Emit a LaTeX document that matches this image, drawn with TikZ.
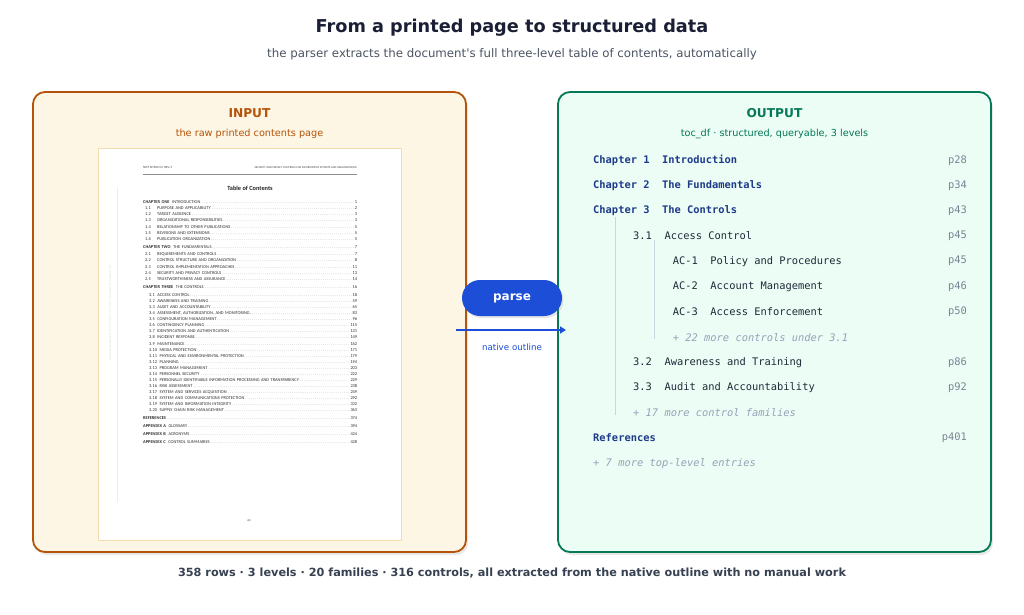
\documentclass[tikz,border=0pt]{standalone}
\usepackage{fontspec}
\setmainfont{DejaVu Sans}
\setmonofont{DejaVu Sans Mono}
\newfontfamily\plainsans{DejaVu Sans}
\newfontfamily\carl{Carlito}
\usetikzlibrary{shadows,arrows.meta}
\definecolor{titlec}{HTML}{1A1F36}
\definecolor{subc}{HTML}{4B5563}
\definecolor{inbord}{HTML}{B45309}
\definecolor{infill}{HTML}{FEF6E4}
\definecolor{outbord}{HTML}{047857}
\definecolor{outfill}{HTML}{ECFDF5}
\definecolor{navy}{HTML}{1E3A8A}
\definecolor{rowc}{HTML}{1F2937}
\definecolor{morec}{HTML}{94A3B8}
\definecolor{pagec}{HTML}{7A8494}
\definecolor{guide}{HTML}{CBD5E1}
\definecolor{pblue}{HTML}{1D4ED8}
\definecolor{botc}{HTML}{374151}
\definecolor{pageb}{HTML}{F1DDB0}
\newcommand\lead{\textcolor{black!45}{\dotfill}}
\newcommand\tocA[5]{\node[tocnode,text width=212pt] (#1) at (145,#2) {\makebox[12pt][l]{#3}#4\lead#5};}
\newcommand\tocB[5]{\node[tocnode,text width=208pt] (#1) at (149,#2) {\mbox{#3}\hspace{2.6pt}#4\lead#5};}
\newcommand\tocC[5]{\node[tocnode,text width=214pt] (#1) at (143,#2) {\textbf{#3}\hspace{2.6pt}#4\lead#5};}
\begin{document}
\begin{tikzpicture}[x=1pt,y=-1pt,
  panel/.style={rounded corners=12pt, line width=1.8pt, drop shadow={shadow xshift=2pt,shadow yshift=-3pt,opacity=0.18}},
  ptitle/.style={font=\bfseries\fontsize{12.2}{14}\selectfont, inner sep=0},
  psub/.style={font=\fontsize{9.7}{12}\selectfont, inner sep=0},
  tocnode/.style={anchor=west, inner sep=0, font=\carl\fontsize{4.4}{5}\selectfont, text=black!82},
  mono/.style={anchor=west, inner sep=0, font=\ttfamily\fontsize{10.4}{12}\selectfont},
  chap/.style={mono, font=\ttfamily\bfseries\fontsize{10.4}{12}\selectfont, text=navy},
  row/.style={mono, text=rowc},
  more/.style={mono, font=\ttfamily\itshape\fontsize{10.4}{12}\selectfont, text=morec},
  pnum/.style={anchor=east, inner sep=0, font=\ttfamily\fontsize{10.4}{12}\selectfont, text=pagec},
  guideline/.style={guide, line width=1pt}
]
\useasboundingbox (0,0) rectangle (1024,614);
\fill[white] (0,0) rectangle (1024,614);

% titles
\node[font=\bfseries\fontsize{17.7}{20}\selectfont, text=titlec, inner sep=0] (title) at (512,28) {From a printed page to structured data};
\node[font=\plainsans\fontsize{11.8}{14}\selectfont, text=subc, inner sep=0] (subtitle) at (512,54) {the parser extracts the document's full three-level table of contents, automatically};

% panels
\draw[panel, draw=inbord, fill=infill] (33,92) rectangle (466,552);
\draw[panel, draw=outbord, fill=outfill] (558,92) rectangle (991,552);
\node[ptitle, text=inbord] (inlab) at (249.5,113) {INPUT};
\node[psub, text=inbord] (insub) at (249.5,134) {the raw printed contents page};
\node[ptitle, text=outbord] (outlab) at (774.5,113) {OUTPUT};
\node[psub, text=outbord] (outsub) at (774.5,134) {toc\_df · structured, queryable, 3 levels};

% printed page
\draw[pageb, fill=white, line width=0.8pt] (98,148) rectangle (401,540);
\draw[black!7, line width=0.6pt] (117,187) -- (117,502);
\node[rotate=-90, inner sep=0, font=\carl\fontsize{2.6}{3}\selectfont, text=black!14] (side) at (110,313) {This publication is available free of charge from: https://doi.org/10.6028/NIST.SP.800-53r5};
\node[anchor=west, inner sep=0, font=\carl\fontsize{3.2}{4}\selectfont, text=black!75] (hl) at (143,168) {NIST SP 800-53, REV. 5};
\node[anchor=east, inner sep=0, font=\carl\fontsize{2.9}{4}\selectfont, text=black!75] (hr) at (357,168) {SECURITY AND PRIVACY CONTROLS FOR INFORMATION SYSTEMS AND ORGANIZATIONS};
\draw[black!45, line width=0.4pt] (143,174) -- (357,174);
\node[inner sep=0, font=\carl\bfseries\fontsize{6.3}{7}\selectfont, text=black!85] (toc) at (250,188) {Table of Contents};

\tocC{c1}{202}{CHAPTER ONE}{INTRODUCTION}{1}
\tocA{s11}{208.3}{1.1}{PURPOSE AND APPLICABILITY}{2}
\tocA{s12}{214.4}{1.2}{TARGET AUDIENCE}{3}
\tocA{s13}{220.5}{1.3}{ORGANIZATIONAL RESPONSIBILITIES}{3}
\tocA{s14}{226.6}{1.4}{RELATIONSHIP TO OTHER PUBLICATIONS}{5}
\tocA{s15}{232.7}{1.5}{REVISIONS AND EXTENSIONS}{5}
\tocA{s16}{238.8}{1.6}{PUBLICATION ORGANIZATION}{5}
\tocC{c2}{246.7}{CHAPTER TWO}{THE FUNDAMENTALS}{7}
\tocA{s21}{254.3}{2.1}{REQUIREMENTS AND CONTROLS}{7}
\tocA{s22}{260.5}{2.2}{CONTROL STRUCTURE AND ORGANIZATION}{8}
\tocA{s23}{266.7}{2.3}{CONTROL IMPLEMENTATION APPROACHES}{11}
\tocA{s24}{272.9}{2.4}{SECURITY AND PRIVACY CONTROLS}{13}
\tocA{s25}{279.1}{2.5}{TRUSTWORTHINESS AND ASSURANCE}{14}
\tocC{c3}{287.2}{CHAPTER THREE}{THE CONTROLS}{16}
\tocB{s31}{295.0}{3.1}{ACCESS CONTROL}{18}
\tocB{s32}{301.07}{3.2}{AWARENESS AND TRAINING}{59}
\tocB{s33}{307.14}{3.3}{AUDIT AND ACCOUNTABILITY}{65}
\tocB{s34}{313.21}{3.4}{ASSESSMENT, AUTHORIZATION, AND MONITORING}{83}
\tocB{s35}{319.28}{3.5}{CONFIGURATION MANAGEMENT}{96}
\tocB{s36}{325.35}{3.6}{CONTINGENCY PLANNING}{115}
\tocB{s37}{331.42}{3.7}{IDENTIFICATION AND AUTHENTICATION}{131}
\tocB{s38}{337.49}{3.8}{INCIDENT RESPONSE}{149}
\tocB{s39}{343.56}{3.9}{MAINTENANCE}{162}
\tocB{s310}{349.63}{3.10}{MEDIA PROTECTION}{171}
\tocB{s311}{355.70}{3.11}{PHYSICAL AND ENVIRONMENTAL PROTECTION}{179}
\tocB{s312}{361.77}{3.12}{PLANNING}{194}
\tocB{s313}{367.84}{3.13}{PROGRAM MANAGEMENT}{203}
\tocB{s314}{373.91}{3.14}{PERSONNEL SECURITY}{222}
\tocB{s315}{379.98}{3.15}{PERSONALLY IDENTIFIABLE INFORMATION PROCESSING AND TRANSPARENCY}{229}
\tocB{s316}{386.05}{3.16}{RISK ASSESSMENT}{238}
\tocB{s317}{392.12}{3.17}{SYSTEM AND SERVICES ACQUISITION}{249}
\tocB{s318}{398.19}{3.18}{SYSTEM AND COMMUNICATIONS PROTECTION}{292}
\tocB{s319}{404.26}{3.19}{SYSTEM AND INFORMATION INTEGRITY}{332}
\tocB{s320}{410.33}{3.20}{SUPPLY CHAIN RISK MANAGEMENT}{363}
\node[tocnode,text width=214pt] (refs) at (143,418.2) {\textbf{REFERENCES}\lead 374};
\tocC{apa}{426.3}{APPENDIX A}{GLOSSARY}{394}
\tocC{apb}{434.3}{APPENDIX B}{ACRONYMS}{424}
\tocC{apc}{442.3}{APPENDIX C}{CONTROL SUMMARIES}{428}
\node[inner sep=0, font=\carl\fontsize{3}{4}\selectfont, text=black!75] (pno) at (249,520) {xiii};

% parse connector
\coordinate (a0) at (456,330);
\coordinate (a1) at (566,330);
\draw[pblue, line width=2.8pt, -{Triangle[length=6pt,width=7pt]}] (a0) -- (a1);
\node[fill=pblue, rounded corners=18pt, minimum width=100pt, minimum height=36pt, inner sep=0,
      text=white, font=\bfseries\fontsize{12}{14}\selectfont,
      drop shadow={shadow xshift=1.5pt,shadow yshift=-2pt,opacity=0.2}] (parse) at (512,298) {parse};
\node[inner sep=0, text=pblue, font=\fontsize{8.7}{10}\selectfont] (nat) at (512,347) {native outline};

% output rows
\node[chap] (r1) at (593,160.7) {Chapter~1~~Introduction};
\node[pnum] (p1) at (967,160.7) {p28};
\node[chap] (r2) at (593,185.7) {Chapter~2~~The~Fundamentals};
\node[pnum] (p2) at (967,185.7) {p34};
\node[chap] (r3) at (593,210.8) {Chapter~3~~The~Controls};
\node[pnum] (p3) at (967,210.8) {p43};
\node[row] (r4) at (633,236) {3.1~~Access~Control};
\node[pnum] (p4) at (967,236) {p45};
\node[row] (r5) at (672.7,261.1) {AC-1~~Policy~and~Procedures};
\node[pnum] (p5) at (967,261.1) {p45};
\node[row] (r6) at (672.7,286.4) {AC-2~~Account~Management};
\node[pnum] (p6) at (967,286.4) {p46};
\node[row] (r7) at (672.7,311.6) {AC-3~~Access~Enforcement};
\node[pnum] (p7) at (967,311.6) {p50};
\node[more] (r8) at (672.7,337.2) {+~22~more~controls~under~3.1};
\node[row] (r9) at (633,362.3) {3.2~~Awareness~and~Training};
\node[pnum] (p9) at (967,362.3) {p86};
\node[row] (r10) at (633,387.6) {3.3~~Audit~and~Accountability};
\node[pnum] (p10) at (967,387.6) {p92};
\node[more] (r11) at (633,412.7) {+~17~more~control~families};
\node[chap] (r12) at (593,438) {References};
\node[pnum] (p12) at (967,438) {p401};
\node[more] (r13) at (593,463.2) {+~7~more~top-level~entries};

\coordinate (g1a) at (615.3,217);
\coordinate (g1b) at (615.3,415);
\coordinate (g2a) at (654.7,240);
\coordinate (g2b) at (654.7,339);
\draw[guideline] (g1a) -- (g1b);
\draw[guideline] (g2a) -- (g2b);

% footer
\node[inner sep=0, text=botc, font=\bfseries\fontsize{11.25}{13}\selectfont] (foot) at (512,573) {358 rows · 3 levels · 20 families · 316 controls, all extracted from the native outline with no manual work};
\end{tikzpicture}
\end{document}
